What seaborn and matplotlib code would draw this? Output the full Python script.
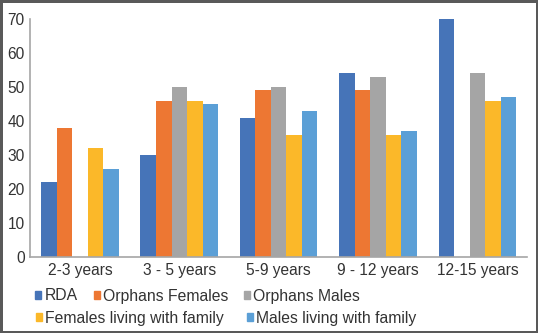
import seaborn as sns
import matplotlib.pyplot as plt
import pandas as pd
import numpy as np
from matplotlib.patches import Patch

# data
groups = ["2-3 years", "3 - 5 years", "5-9 years", "9 - 12 years", "12-15 years"]
series = ["RDA", "Orphans Females", "Orphans Males",
          "Females living with family", "Males living with family"]
rda = [22, 30, 41, 54, 70]
orph_f = [38, 46, 49, 49, np.nan]
orph_m = [np.nan, 50, 50, 53, 54]
fam_f = [32, 46, 36, 36, 46]
fam_m = [26, 45, 43, 37, 47]
colors = ["#4674B8", "#ED7733", "#A5A5A5", "#FBB829", "#5B9FD6"]

df = pd.DataFrame({"group": groups, series[0]: rda, series[1]: orph_f,
                   series[2]: orph_m, series[3]: fam_f, series[4]: fam_m})
long = df.melt(id_vars="group", var_name="series", value_name="value")

sns.set_theme(style="white")
plt.rcParams['font.family'] = ['Liberation Sans', 'DejaVu Sans']

fig = plt.figure(figsize=(5.38, 3.33), dpi=100, edgecolor="#595959", linewidth=2.5)
ax = fig.add_axes([0.056, 0.228, 0.924, 0.715])

sns.barplot(ax=ax, data=long, x="group", y="value", hue="series",
            order=groups, hue_order=series, palette=colors, saturation=1,
            width=0.78, linewidth=0, errorbar=None, legend=False)

ax.set_ylim(0, 70)
ax.set_yticks(range(0, 71, 10))
ax.set_xlim(-0.5, 4.5)
ax.set_xlabel("")
ax.set_ylabel("")
ax.tick_params(axis="both", length=0, labelsize=11.2, labelcolor="#333333")
ax.tick_params(axis="y", pad=4)
ax.tick_params(axis="x", pad=4)
for s in ["top", "right"]:
    ax.spines[s].set_visible(False)
for s in ["left", "bottom"]:
    ax.spines[s].set_color("#A6A6A6")
    ax.spines[s].set_linewidth(1.2)

# Excel-style legend: one entry per slot, two rows
slots = [(35, 296), (94, 296), (244, 296), (36, 318), (247, 318)]
for lab, c, (px, py) in zip(series, colors, slots):
    fig.legend([Patch(color=c)], [lab], loc="center left",
               bbox_to_anchor=(px / 538, 1 - py / 333), borderaxespad=0,
               frameon=False, fontsize=11.3, handlelength=0.4, handleheight=0.4,
               handletextpad=0.2, borderpad=0, labelcolor="#333333")

fig.savefig("out.png", dpi=100, edgecolor=fig.get_edgecolor())
